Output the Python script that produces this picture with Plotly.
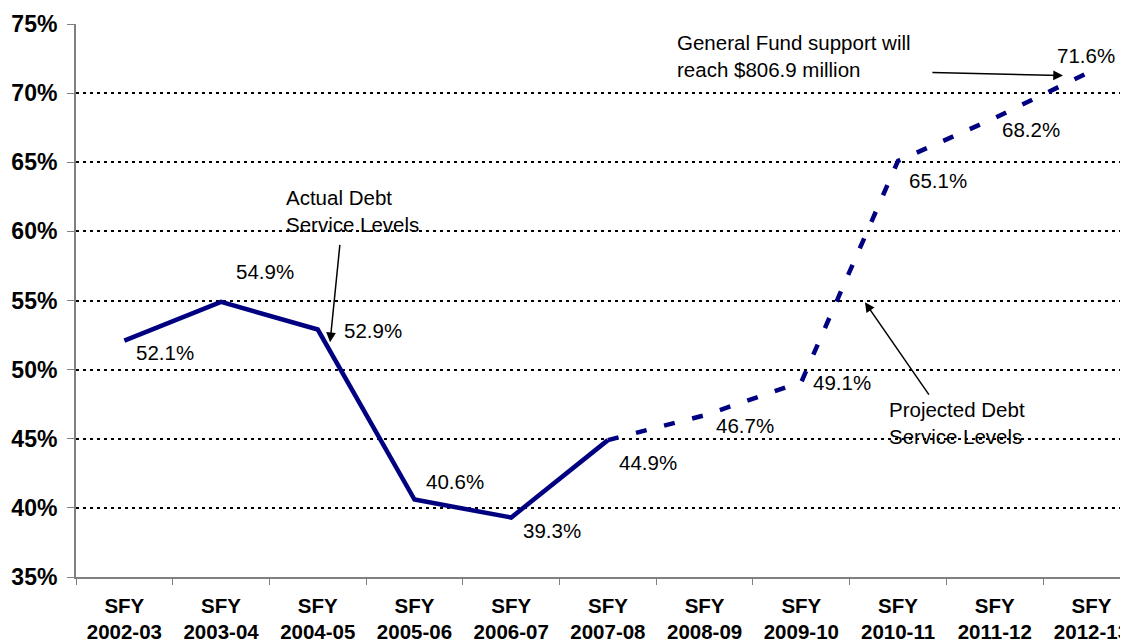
import plotly.graph_objects as go

# ---- data ----
categories = ["SFY<br>2002-03", "SFY<br>2003-04", "SFY<br>2004-05", "SFY<br>2005-06",
              "SFY<br>2006-07", "SFY<br>2007-08", "SFY<br>2008-09", "SFY<br>2009-10",
              "SFY<br>2010-11", "SFY<br>2011-12", "SFY<br>2012-13"]
values = [52.1, 54.9, 52.9, 40.6, 39.3, 44.9, 46.7, 49.1, 65.1, 68.2, 71.6]
n_actual = 6  # SFY 2002-03 .. 2007-08 are actual, the rest projected
y_ticks = [35, 40, 45, 50, 55, 60, 65, 70, 75]
y_tick_labels = [f"{t}%" for t in y_ticks]

# ---- styling (label offsets in px: right, down) ----
label_offsets = [(41, 12), (44, -30), (55, 1), (41, -18), (41, 13), (40, 22),
                 (40, 10), (41, 0), (40, 20), (36, 11), (-5, -16)]

FONT = "Liberation Sans, Arial, sans-serif"
NAVY = "#000080"

fig = go.Figure()
fig.add_trace(go.Scatter(
    x=categories[:n_actual], y=values[:n_actual], mode="lines",
    line=dict(color=NAVY, width=4.5), hoverinfo="skip", showlegend=False))
fig.add_trace(go.Scatter(
    x=categories[n_actual - 1:], y=values[n_actual - 1:], mode="lines",
    line=dict(color=NAVY, width=4.5, dash="11px,18px"), hoverinfo="skip", showlegend=False))

annotations = []
for cat, v, (dx, dy) in zip(categories, values, label_offsets):
    annotations.append(dict(
        x=cat, y=v, xref="x", yref="y", text=f"{v:.1f}%", showarrow=False,
        xshift=dx, yshift=-dy, font=dict(family=FONT, size=20.5, color="#000000")))

text_font = dict(family=FONT, size=20.5, color="#000000")
annotations += [
    dict(x=1.65, y=61.48, xref="x", yref="y", xanchor="left", yanchor="middle",
         align="left", text="Actual Debt<br>Service Levels", showarrow=False, font=text_font),
    dict(x=5.694, y=72.72, xref="x", yref="y", xanchor="left", yanchor="middle",
         align="left", text="General Fund support will<br>reach $806.9 million",
         showarrow=False, font=text_font),
    dict(x=7.886, y=46.16, xref="x", yref="y", xanchor="left", yanchor="middle",
         align="left", text="Projected Debt<br>Service Levels", showarrow=False, font=text_font),
]
arrow_style = dict(xref="x", yref="y", axref="x", ayref="y", text="", showarrow=True,
                   arrowhead=2, arrowsize=1.3, arrowwidth=1.5, arrowcolor="#000000", standoff=0)
annotations += [
    dict(x=2.127, y=51.98, ax=2.23, ay=59.13, **arrow_style),
    dict(x=9.706, y=71.27, ax=8.34, ay=71.49, **arrow_style),
    dict(x=7.658, y=54.87, ax=8.33, ay=48.08, **arrow_style),
]

fig.update_layout(
    width=1120, height=633,
    margin=dict(l=68, r=0, t=15.5, b=64, autoexpand=False),
    paper_bgcolor="white", plot_bgcolor="white",
    font=dict(family=FONT, color="#000000"),
    annotations=annotations,
    xaxis=dict(
        type="category", categoryorder="array", categoryarray=categories,
        range=[-0.5, 10.378], tickson="boundaries", automargin=False,
        ticks="outside", ticklen=6, tickwidth=1, tickcolor="#808080",
        showline=True, linecolor="#808080", linewidth=2,
        showgrid=False, zeroline=False,
        tickfont=dict(family=FONT, size=20.5, color="#000000", weight="bold"),
        ticklabelstandoff=9,
    ),
    yaxis=dict(
        range=[35, 75], tickmode="array", tickvals=y_ticks, ticktext=y_tick_labels,
        automargin=False,
        ticks="outside", ticklen=7, tickwidth=1, tickcolor="#808080",
        showline=True, linecolor="#808080", linewidth=2,
        showgrid=True, gridcolor="#000000", gridwidth=2, griddash="3px,4px",
        zeroline=False,
        tickfont=dict(family=FONT, size=23, color="#000000", weight="bold"),
        ticklabelstandoff=5,
    ),
)

fig.write_html("out.html")
